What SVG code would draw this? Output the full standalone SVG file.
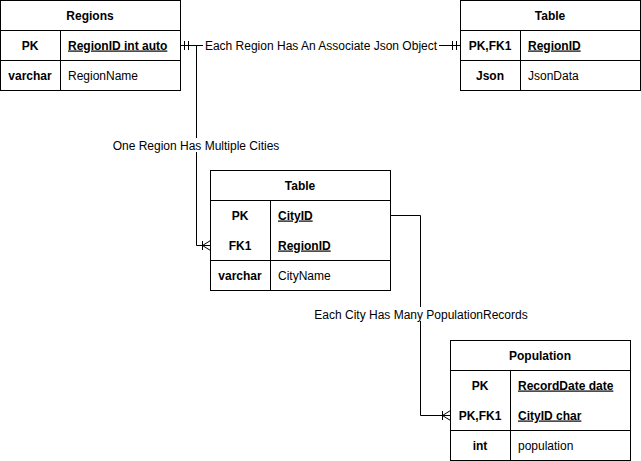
<svg xmlns="http://www.w3.org/2000/svg" width="641" height="461" viewBox="0 0 641 461">
<style>
.box{fill:#fff;stroke:#000;stroke-width:1}
.ln{stroke:#000;stroke-width:1;fill:none}
text{font-family:"Liberation Sans",Arial,sans-serif;font-size:12px;fill:#000}
.h{font-weight:bold;text-anchor:middle}
.k{font-weight:bold;text-anchor:middle}
.u{text-decoration:underline}
.lbl{text-anchor:middle}
.bg{fill:#fff;stroke:none}
</style>
<rect width="641" height="461" fill="#fff"/>
<g id="connectors">
  <path class="ln" d="M180.5,45.5 H460.5"/>
  <path class="ln" d="M184.5,41 V50 M188.5,41 V50"/>
  <path class="ln" d="M452.5,41 V50 M456.5,41 V50"/>
  <rect class="bg" x="203" y="38" width="236" height="15"/>
  <text class="lbl" x="321" y="49.5">Each Region Has An Associate Json Object</text>

  <path class="ln" d="M180.5,45.5 H196.5 V245.5 H210.5"/>
  <path class="ln" d="M202.5,241 V250 M202.5,245.5 L210.5,240.5 M202.5,245.5 L210.5,250.5"/>
  <rect class="bg" x="112" y="138" width="168" height="14"/>
  <text class="lbl" x="196" y="149.5">One Region Has Multiple Cities</text>

  <path class="ln" d="M390.5,215.5 H420.5 V415.5 H450.5"/>
  <path class="ln" d="M442.5,411 V420 M442.5,415.5 L450.5,410.5 M442.5,415.5 L450.5,420.5"/>
  <rect class="bg" x="312" y="307" width="218" height="14"/>
  <text class="lbl" x="421" y="318.5">Each City Has Many PopulationRecords</text>
</g>
<g id="regions">
  <rect class="box" x="0.5" y="0.5" width="180" height="90"/>
  <path class="ln" d="M0.5,30.5 H180.5 M0.5,60.5 H180.5 M60.5,30.5 V90.5"/>
  <text class="h" x="90" y="19.5">Regions</text>
  <text class="k" x="30" y="49.5">PK</text>
  <text class="u" x="68" y="49.5" font-weight="bold">RegionID int auto</text>
  <text class="k" x="30" y="79.5">varchar</text>
  <text x="68" y="79.5">RegionName</text>
</g>
<g id="json-table">
  <rect class="box" x="460.5" y="0.5" width="180" height="90"/>
  <path class="ln" d="M460.5,30.5 H640.5 M460.5,60.5 H640.5 M520.5,30.5 V90.5"/>
  <text class="h" x="550" y="19.5">Table</text>
  <text class="k" x="490" y="49.5">PK,FK1</text>
  <text class="u" x="528" y="49.5" font-weight="bold">RegionID</text>
  <text class="k" x="490" y="79.5">Json</text>
  <text x="528" y="79.5">JsonData</text>
</g>
<g id="city-table">
  <rect class="box" x="210.5" y="170.5" width="180" height="120"/>
  <path class="ln" d="M210.5,200.5 H390.5 M210.5,260.5 H390.5 M270.5,200.5 V290.5"/>
  <text class="h" x="300" y="189.5">Table</text>
  <text class="k" x="240" y="219.5">PK</text>
  <text class="u" x="278" y="219.5" font-weight="bold">CityID</text>
  <text class="k" x="240" y="249.5">FK1</text>
  <text class="u" x="278" y="249.5" font-weight="bold">RegionID</text>
  <text class="k" x="240" y="279.5">varchar</text>
  <text x="278" y="279.5">CityName</text>
</g>
<g id="population">
  <rect class="box" x="450.5" y="340.5" width="180" height="120"/>
  <path class="ln" d="M450.5,370.5 H630.5 M450.5,430.5 H630.5 M510.5,370.5 V460.5"/>
  <text class="h" x="540" y="359.5">Population</text>
  <text class="k" x="480" y="389.5">PK</text>
  <text class="u" x="518" y="389.5" font-weight="bold">RecordDate date</text>
  <text class="k" x="480" y="419.5">PK,FK1</text>
  <text class="u" x="518" y="419.5" font-weight="bold">CityID char</text>
  <text class="k" x="480" y="449.5">int</text>
  <text x="518" y="449.5">population</text>
</g>
</svg>
